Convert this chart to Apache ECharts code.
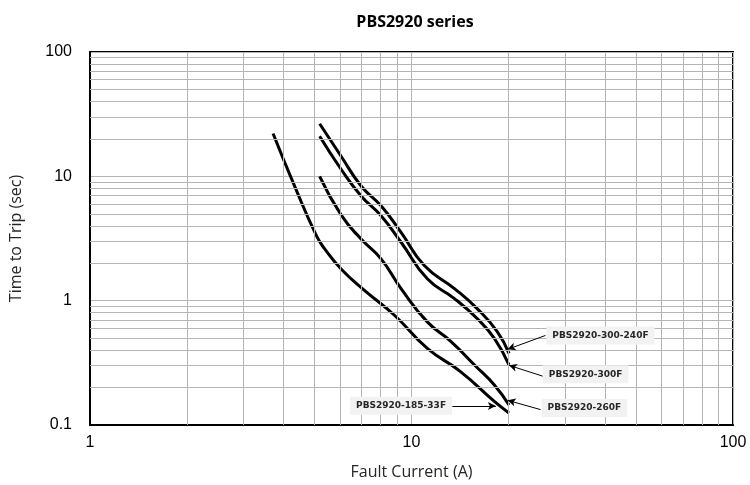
<!DOCTYPE html>
<html>
<head>
<meta charset="utf-8">
<script src="https://cdn.jsdelivr.net/npm/echarts@6/dist/echarts.min.js"></script>
<style>
  html, body { margin: 0; padding: 0; background: #fff; }
  #chart { width: 750px; height: 485px; }
</style>
</head>
<body>
<div id="chart"></div>
<script>
// curve data (current in A, time in sec)
const current185 = [3.71, 4.3, 5.06, 5.37, 6.04, 7.14, 8.85, 11.2, 14.2, 18.1, 20.1];
const time185    = [22.1, 8.7, 3.33, 2.61, 1.80, 1.21, 0.763, 0.413, 0.269, 0.155, 0.125];

const current260 = [5.18, 6.04, 6.97, 8.04, 9.28, 11.2, 13.3, 15.7, 18.1, 20.1];
const time260    = [10.0, 4.9, 3.13, 2.17, 1.25, 0.675, 0.467, 0.304, 0.21, 0.145];

const current300 = [5.18, 6.04, 6.97, 8.04, 9.28, 11.2, 13.6, 16.0, 18.1, 20.1];
const time300    = [21.0, 11.4, 6.96, 4.82, 2.95, 1.50, 1.04, 0.718, 0.497, 0.304];

const current300240 = [5.18, 6.04, 6.97, 8.04, 9.28, 10.96, 13.6, 16.0, 18.5, 20.1];
const time300240    = [26.5, 14.5, 8.37, 5.79, 3.54, 1.92, 1.25, 0.863, 0.561, 0.377];

// minor grid values (log decades)
const minorX = [2, 3, 4, 5, 6, 7, 8, 9, 20, 30, 40, 50, 60, 70, 80, 90];
const minorY = [0.2, 0.3, 0.4, 0.5, 0.6, 0.7, 0.8, 0.9, 2, 3, 4, 5, 6, 7, 8, 9, 20, 30, 40, 50, 60, 70, 80, 90];

// annotations: text, label position, arrow start, arrow end
const notes = [
  { name: 'PBS2920-300-240F', label: [38.7, 0.525], from: [26.1, 0.525], to: [19.9, 0.406] },
  { name: 'PBS2920-300F',     label: [34.8, 0.256], from: [25.6, 0.247], to: [20.1, 0.302] },
  { name: 'PBS2920-260F',     label: [34.5, 0.137], from: [25.2, 0.133], to: [19.9, 0.158] },
  { name: 'PBS2920-185-33F',  label: [9.28, 0.143], from: [13.4, 0.142], to: [18.3, 0.142] }
];

function pairs(xs, ys) {
  return xs.map(function (x, i) { return [x, ys[i]]; });
}

const gridColor = '#b4b4b4';

let curves = [
  { name: 'PBS2920-185-33F', data: pairs(current185, time185) },
  { name: 'PBS2920-260F', data: pairs(current260, time260) },
  { name: 'PBS2920-300F', data: pairs(current300, time300) },
  { name: 'PBS2920-300-240F', data: pairs(current300240, time300240) }
];

let series = [];
// minor grid lines
series.push({
  type: 'line',
  data: [],
  z: 1,
  silent: true,
  markLine: {
    silent: true,
    symbol: ['none', 'none'],
    animation: false,
    label: { show: false },
    lineStyle: { color: gridColor, width: 1, type: 'solid' },
    data: minorX.map(function (v) { return { xAxis: v }; })
      .concat(minorY.map(function (v) { return { yAxis: v }; }))
  }
});

curves.forEach(function (c) {
  series.push({
    name: c.name,
    type: 'line',
    data: c.data,
    z: 3,
    smooth: 0.5,
    showSymbol: false,
    lineStyle: { color: '#000', width: 3 },
    animation: false
  });
});

// annotations
series.push({
  type: 'line',
  data: [],
  z: 4,
  markLine: {
    silent: true,
    animation: false,
    symbol: ['none', 'arrow'],
    symbolSize: [6, 8],
    label: { show: false },
    lineStyle: { color: '#000', width: 1, type: 'solid' },
    data: notes.map(function (n) { return [{ coord: n.from }, { coord: n.to }]; })
  },
  markPoint: {
    silent: true,
    animation: false,
    symbol: 'rect',
    symbolSize: 0,
    label: {
      show: true,
      position: 'inside',
      color: '#262626',
      fontFamily: 'DejaVu Sans',
      fontWeight: 'bold',
      fontSize: 9,
      backgroundColor: '#f2f2f2',
      padding: [5, 6, 4, 6],
      formatter: function (p) { return p.name; }
    },
    data: notes.map(function (n) { return { name: n.name, coord: n.label }; })
  }
});

const chart = echarts.init(document.getElementById('chart'));
chart.setOption({
  backgroundColor: '#fff',
  animation: false,
  title: {
    text: 'PBS2920 series',
    left: 410,
    textAlign: 'center',
    top: 9,
    textStyle: { fontFamily: 'Open Sans', fontWeight: 'bold', fontSize: 16, color: '#000' }
  },
  grid: {
    left: 88, right: 17, top: 52, bottom: 58,
    show: true, borderColor: '#000', borderWidth: 2
  },
  xAxis: {
    type: 'log',
    logBase: 10,
    min: 1,
    max: 100,
    name: 'Fault Current (A)',
    nameLocation: 'middle',
    nameGap: 39,
    nameTextStyle: { fontFamily: 'Open Sans', fontSize: 16, color: '#262626' },
    axisLine: { lineStyle: { color: '#000', width: 2 } },
    axisTick: { show: false },
    axisLabel: { fontFamily: 'Liberation Sans', fontSize: 16, color: '#000', margin: 10 },
    splitLine: { show: true, lineStyle: { color: gridColor, width: 1 } }
  },
  yAxis: {
    type: 'log',
    logBase: 10,
    min: 0.1,
    max: 100,
    name: 'Time to Trip (sec)',
    nameLocation: 'middle',
    nameGap: 66,
    nameTextStyle: { fontFamily: 'Open Sans', fontSize: 16, color: '#262626' },
    axisLine: { lineStyle: { color: '#000', width: 2 } },
    axisTick: { show: false },
    axisLabel: {
      fontFamily: 'Liberation Sans', fontSize: 16, color: '#000', margin: 18,
      formatter: function (v) { return v < 1 ? v.toFixed(1) : String(Math.round(v)); }
    },
    splitLine: { show: true, lineStyle: { color: gridColor, width: 1 } }
  },
  series: series
});
</script>
</body>
</html>
